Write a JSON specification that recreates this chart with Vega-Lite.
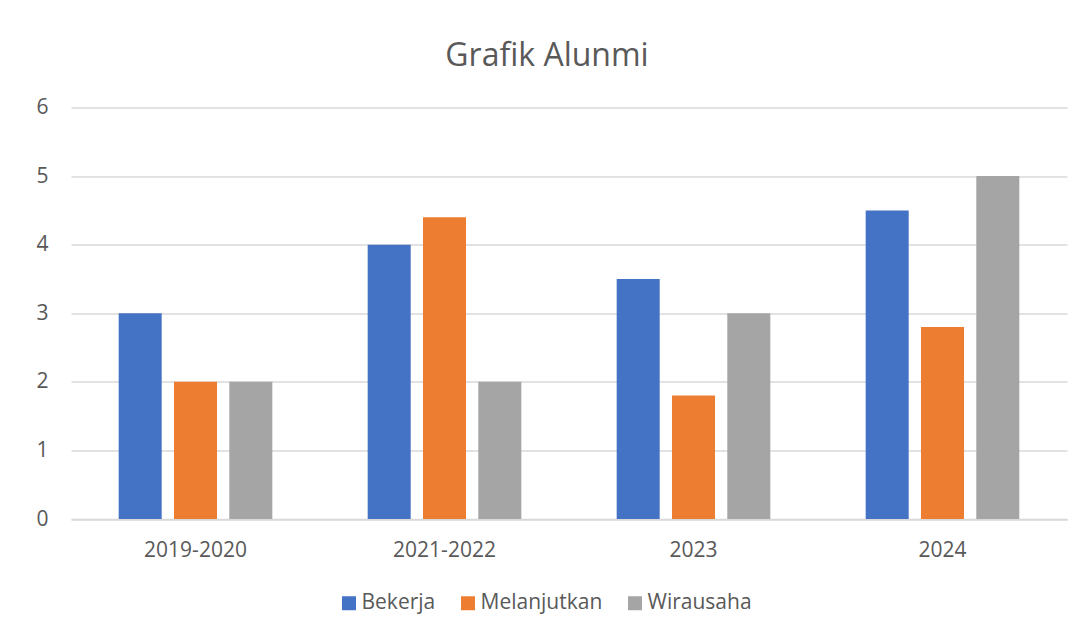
{
  "$schema": "https://vega.github.io/schema/vega-lite/v6.json",
  "autosize": "none",
  "width": 996,
  "height": 411.5,
  "padding": {"left": 71, "top": 107.5, "right": 9, "bottom": 115},
  "background": "white",
  "title": {
    "text": "Grafik Alunmi",
    "font": "Open Sans",
    "fontSize": 32,
    "fontWeight": "normal",
    "color": "#595959",
    "anchor": "middle",
    "frame": "group",
    "baseline": "alphabetic",
    "offset": -1,
    "dx": -22
  },
  "data": {
    "values": [
      {"periode": "2019-2020", "kategori": "Bekerja", "jumlah": 3},
      {"periode": "2019-2020", "kategori": "Melanjutkan", "jumlah": 2},
      {"periode": "2019-2020", "kategori": "Wirausaha", "jumlah": 2},
      {"periode": "2021-2022", "kategori": "Bekerja", "jumlah": 4},
      {"periode": "2021-2022", "kategori": "Melanjutkan", "jumlah": 4.4},
      {"periode": "2021-2022", "kategori": "Wirausaha", "jumlah": 2},
      {"periode": "2023", "kategori": "Bekerja", "jumlah": 3.5},
      {"periode": "2023", "kategori": "Melanjutkan", "jumlah": 1.8},
      {"periode": "2023", "kategori": "Wirausaha", "jumlah": 3},
      {"periode": "2024", "kategori": "Bekerja", "jumlah": 4.5},
      {"periode": "2024", "kategori": "Melanjutkan", "jumlah": 2.8},
      {"periode": "2024", "kategori": "Wirausaha", "jumlah": 5}
    ]
  },
  "mark": {"type": "bar"},
  "encoding": {
    "x": {
      "field": "periode",
      "type": "nominal",
      "sort": null,
      "scale": {"paddingInner": 0, "paddingOuter": 0},
      "axis": {
        "title": null,
        "labelAngle": 0,
        "labelFont": "Open Sans",
        "labelFontSize": 21,
        "labelColor": "#595959",
        "labelPadding": 20,
        "ticks": false,
        "domain": true,
        "domainColor": "#d9d9d9",
        "domainWidth": 1.5,
        "grid": false
      }
    },
    "xOffset": {
      "field": "kategori",
      "type": "nominal",
      "sort": ["Bekerja", "Melanjutkan", "Wirausaha"],
      "scale": {"paddingInner": 0.222, "paddingOuter": 0.862}
    },
    "y": {
      "field": "jumlah",
      "type": "quantitative",
      "scale": {"domain": [0, 6], "nice": false},
      "axis": {
        "title": null,
        "values": [0, 1, 2, 3, 4, 5, 6],
        "labelFont": "Open Sans",
        "labelFontSize": 21,
        "labelColor": "#595959",
        "labelPadding": 23,
        "ticks": false,
        "domain": false,
        "grid": true,
        "gridColor": "#d9d9d9",
        "gridWidth": 1.5
      }
    },
    "color": {
      "field": "kategori",
      "type": "nominal",
      "sort": ["Bekerja", "Melanjutkan", "Wirausaha"],
      "scale": {
        "domain": ["Bekerja", "Melanjutkan", "Wirausaha"],
        "range": ["#4472C4", "#ED7D31", "#A5A5A5"]
      },
      "legend": {
        "title": null,
        "orient": "none",
        "direction": "horizontal",
        "legendX": 267.5,
        "legendY": 485,
        "symbolType": "square",
        "symbolSize": 196,
        "symbolStrokeWidth": 0,
        "symbolOpacity": 1,
        "labelFont": "Open Sans",
        "labelFontSize": 21,
        "labelColor": "#595959",
        "labelOffset": 2,
        "columnPadding": 22
      }
    }
  },
  "config": {
    "view": {"stroke": null}
  }
}
